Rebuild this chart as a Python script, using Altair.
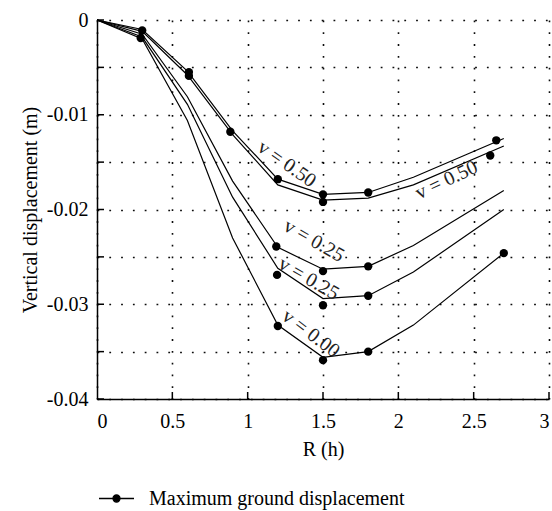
import altair as alt
import pandas as pd

# ---- data ----
x_line = [0, 0.3, 0.6, 0.9, 1.2, 1.5, 1.8, 2.1, 2.7]
curve_a = [0, -0.0010, -0.0054, -0.0117, -0.0168, -0.0184, -0.0182, -0.0166, -0.0125]   # v = 0.50 (upper)
curve_b = [0, -0.0012, -0.0058, -0.0121, -0.0174, -0.0190, -0.0188, -0.0174, -0.0133]   # v = 0.50 (lower)
curve_c = [0, -0.0015, -0.0081, -0.0170, -0.0240, -0.0263, -0.0260, -0.0238, -0.0180]   # v = 0.25 (upper)
curve_d = [0, -0.0018, -0.0089, -0.0187, -0.0262, -0.0294, -0.0291, -0.0266, -0.0200]   # v = 0.25 (lower)
curve_e = [0, -0.0020, -0.0106, -0.0230, -0.0322, -0.0356, -0.0350, -0.0322, -0.0246]   # v = 0.00

marker_x = [0.30, 0.29, 0.61, 0.61, 0.885, 1.20, 1.19, 1.195, 1.20,
            1.50, 1.50, 1.50, 1.50, 1.50, 1.80, 1.80, 1.80, 1.80, 2.65, 2.61, 2.70]
marker_y = [-0.0011, -0.0019, -0.0055, -0.0059, -0.0118, -0.0168, -0.0239, -0.0269, -0.0323,
            -0.0184, -0.0192, -0.0265, -0.0301, -0.0359, -0.0182, -0.0260, -0.0291, -0.0350,
            -0.0127, -0.0143, -0.0246]

label_text = ["v = 0.50", "v = 0.50", "v = 0.25", "v = 0.25", "v = 0.00"]
label_x = [1.26, 2.32, 1.44, 1.405, 1.42]
label_y = [-0.0152, -0.0169, -0.0233, -0.0273, -0.0331]
label_angle = [35, 335, 30, 30, 37]

x_ticks = [0.5, 1, 1.5, 2, 2.5, 3]
y_ticks = [0, -0.005, -0.01, -0.015, -0.02, -0.025, -0.03, -0.035, -0.04]
legend_name = "Maximum ground displacement"

# ---- tables ----
curves = {"a": curve_a, "b": curve_b, "c": curve_c, "d": curve_d, "e": curve_e}
lines_df = pd.DataFrame(
    [{"x": xv, "y": yv, "curve": k} for k, ys in curves.items() for xv, yv in zip(x_line, ys)]
)
pts_df = pd.DataFrame({"x": marker_x, "y": marker_y, "series": [legend_name] * len(marker_x)})
lab_df = pd.DataFrame({"x": label_x, "y": label_y, "text": label_text, "angle": label_angle})
xt_df = pd.DataFrame({"x": x_ticks})
yt_df = pd.DataFrame({"y": y_ticks})

FONT = "Liberation Serif"
W, H = 452, 379

xscale = alt.Scale(domain=[0, 3], nice=False, zero=False)
yscale = alt.Scale(domain=[-0.04, 0], nice=False, zero=False)
xaxis = alt.Axis(values=[0, 0.5, 1, 1.5, 2, 2.5, 3], labelExpr="toString(datum.value)",
                 ticks=False, labelPadding=12, titlePadding=8)
yaxis = alt.Axis(values=y_ticks,
                 labelExpr="abs(round(datum.value*200)) % 2 == 0 ? toString(datum.value) : ''",
                 ticks=False, labelPadding=9, titlePadding=6)
X = alt.X("x:Q", scale=xscale, axis=xaxis, title="R (h)")
Y = alt.Y("y:Q", scale=yscale, axis=yaxis, title="Vertical displacement (m)")

lines = alt.Chart(lines_df).mark_line(color="black", strokeWidth=1.2).encode(
    x=X, y=Y, detail="curve:N", order="x:Q"
)

legend_symbol = "M-1,0H1M-0.2,0A0.2,0.2,0,1,0,0.2,0A0.2,0.2,0,1,0,-0.2,0Z"
points = alt.Chart(pts_df).mark_point(filled=True, size=70, opacity=1).encode(
    x=X, y=Y,
    color=alt.Color("series:N", scale=alt.Scale(range=["black"]),
                    legend=alt.Legend(title=None, orient="none", legendX=1, legendY=460,
                                      symbolType=legend_symbol, symbolSize=1225,
                                      symbolStrokeWidth=1.3, symbolStrokeColor="black",
                                      symbolFillColor="black", labelFont=FONT,
                                      labelFontSize=20, labelColor="black",
                                      labelOffset=14, labelLimit=0, padding=0))
)

labels = alt.Chart(lab_df).mark_text(font=FONT, fontSize=20, color="#222",
                                     align="center", baseline="middle").encode(
    x=X, y=Y, text="text:N", angle=alt.Angle("angle:Q", scale=None)
)

xticks = alt.Chart(xt_df).mark_rule(color="black", strokeWidth=1.5).encode(
    x=X, y=alt.value(H), y2=alt.value(H - 7)
)
yticks = alt.Chart(yt_df).mark_rule(color="black", strokeWidth=1.5).encode(
    y=Y, x=alt.value(0), x2=alt.value(7)
)

chart = alt.layer(xticks, yticks, lines, points, labels).properties(
    width=W, height=H,
    autosize=alt.AutoSizeParams(type="none"),
    padding={"left": 97, "top": 20, "right": 3, "bottom": 112},
).configure_view(stroke=None).configure_axis(
    domainColor="black", domainWidth=1.5,
    grid=True, gridColor="black", gridWidth=1.6, gridDash=[1.8, 10], gridOpacity=0.95,
    labelFont=FONT, labelFontSize=20, labelColor="black",
    titleFont=FONT, titleFontSize=20, titleColor="black", titleFontWeight="normal",
)

chart.save("out.html", embed_options={"renderer": "svg", "actions": False})
